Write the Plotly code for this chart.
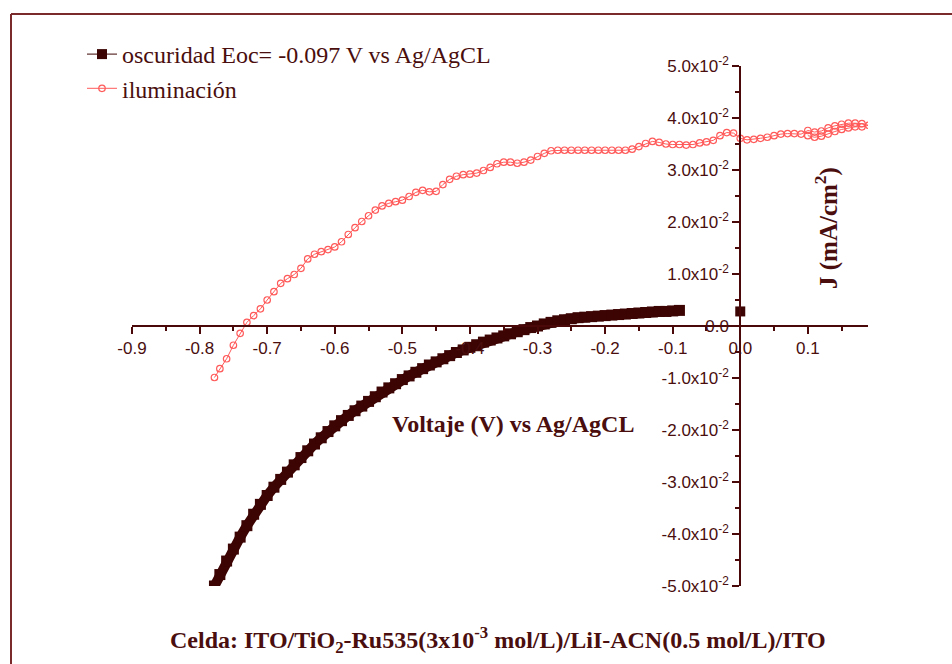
import plotly.graph_objects as go

# --- Curva en oscuridad (Eoc = -0.097 V vs Ag/AgCl) ---
osc_v = [-0.778, -0.770, -0.760, -0.750, -0.740, -0.730, -0.720, -0.710, -0.700,
         -0.690, -0.680, -0.670, -0.660, -0.650, -0.640, -0.630, -0.620, -0.610,
         -0.600, -0.590, -0.580, -0.570, -0.560, -0.550, -0.540, -0.530, -0.520,
         -0.510, -0.500, -0.490, -0.480, -0.470, -0.460, -0.450, -0.440, -0.430,
         -0.420, -0.410, -0.400, -0.390, -0.380, -0.370, -0.360, -0.350, -0.340,
         -0.330, -0.320, -0.310, -0.300, -0.290, -0.280, -0.270, -0.260, -0.250,
         -0.240, -0.230, -0.220, -0.210, -0.200, -0.190, -0.180, -0.170, -0.160,
         -0.150, -0.140, -0.130, -0.120, -0.110, -0.100, -0.090]
osc_j = [-0.0500, -0.0478, -0.0452, -0.0429, -0.0406, -0.0384, -0.0362, -0.0343, -0.0326,
         -0.0310, -0.0295, -0.0281, -0.0267, -0.0253, -0.0240, -0.0227, -0.0215, -0.0203,
         -0.0192, -0.0182, -0.0172, -0.0163, -0.0154, -0.0145, -0.0136, -0.0127, -0.0119,
         -0.0111, -0.0103, -0.0096, -0.0089, -0.0082, -0.0075, -0.0069, -0.0063, -0.0057,
         -0.0051, -0.0046, -0.0041, -0.0036, -0.0031, -0.0027, -0.0023, -0.0019, -0.0015,
         -0.0011, -0.0007, -0.0003, 0.0000, 0.0004, 0.0007, 0.0010, 0.0012, 0.0014,
         0.0016, 0.0017, 0.0018, 0.0019, 0.0020, 0.0021, 0.0022, 0.0023, 0.0024,
         0.0025, 0.0026, 0.0027, 0.0028, 0.0028, 0.0029, 0.0030]
# punto aislado registrado en 0.0 V
osc_extra_v = [0.0]
osc_extra_j = [0.0028]

# --- Curva bajo iluminación (barrido de ida y regreso parcial) ---
luz_v = [-0.778, -0.770, -0.760, -0.750, -0.740, -0.730, -0.720, -0.710, -0.700,
         -0.690, -0.680, -0.670, -0.660, -0.650, -0.640, -0.630, -0.620, -0.610,
         -0.600, -0.590, -0.580, -0.570, -0.560, -0.550, -0.540, -0.530, -0.520,
         -0.510, -0.500, -0.490, -0.480, -0.470, -0.460, -0.450, -0.440, -0.430,
         -0.420, -0.410, -0.400, -0.390, -0.380, -0.370, -0.360, -0.350, -0.340,
         -0.330, -0.320, -0.310, -0.300, -0.290, -0.280, -0.270, -0.260, -0.250,
         -0.240, -0.230, -0.220, -0.210, -0.200, -0.190, -0.180, -0.170, -0.160,
         -0.150, -0.140, -0.130, -0.120, -0.110, -0.100, -0.090, -0.080, -0.070,
         -0.060, -0.050, -0.040, -0.030, -0.020, -0.010, 0.000, 0.010, 0.020,
         0.030, 0.040, 0.050, 0.060, 0.070, 0.080, 0.090, 0.100, 0.110,
         0.120, 0.130, 0.140, 0.150, 0.160, 0.170, 0.180, 0.190,
         0.180, 0.170, 0.160, 0.150, 0.140, 0.130, 0.120, 0.110, 0.100]
luz_j = [-0.0099, -0.0082, -0.0063, -0.0037, -0.0014, 0.0007, 0.0020, 0.0033, 0.0050,
         0.0066, 0.0082, 0.0091, 0.0099, 0.0111, 0.0129, 0.0138, 0.0143, 0.0147,
         0.0152, 0.0162, 0.0176, 0.0189, 0.0201, 0.0212, 0.0223, 0.0231, 0.0236,
         0.0239, 0.0242, 0.0249, 0.0257, 0.0261, 0.0258, 0.0259, 0.0272, 0.0282,
         0.0288, 0.0291, 0.0292, 0.0294, 0.0299, 0.0305, 0.0312, 0.0315, 0.0315,
         0.0313, 0.0315, 0.0319, 0.0326, 0.0332, 0.0337, 0.0338, 0.0338, 0.0338,
         0.0338, 0.0338, 0.0338, 0.0338, 0.0338, 0.0338, 0.0338, 0.0338, 0.0340,
         0.0345, 0.0351, 0.0355, 0.0353, 0.0350, 0.0349, 0.0349, 0.0348, 0.0349,
         0.0352, 0.0354, 0.0357, 0.0366, 0.0372, 0.0371, 0.0361, 0.0358, 0.0359,
         0.0361, 0.0363, 0.0366, 0.0369, 0.0370, 0.0370, 0.0369, 0.0376, 0.0373,
         0.0375, 0.0381, 0.0385, 0.0388, 0.0390, 0.0390, 0.0389, 0.0386,
         0.0383, 0.0383, 0.0381, 0.0378, 0.0374, 0.0369, 0.0365, 0.0363, 0.0366]

# --- Ticks ---
x_ticks = [-0.9, -0.8, -0.7, -0.6, -0.5, -0.4, -0.3, -0.2, -0.1, 0.0, 0.1]
x_labels = ["-0.9", "-0.8", "-0.7", "-0.6", "-0.5", "-0.4", "-0.3", "-0.2", "-0.1", "0.0", "0.1"]
y_ticks = [-0.05, -0.04, -0.03, -0.02, -0.01, 0.0, 0.01, 0.02, 0.03, 0.04, 0.05]
y_labels = ["-5.0x10<sup>-2</sup>", "-4.0x10<sup>-2</sup>", "-3.0x10<sup>-2</sup>",
            "-2.0x10<sup>-2</sup>", "-1.0x10<sup>-2</sup>", "0.0",
            "1.0x10<sup>-2</sup>", "2.0x10<sup>-2</sup>", "3.0x10<sup>-2</sup>",
            "4.0x10<sup>-2</sup>", "5.0x10<sup>-2</sup>"]

X_RANGE = [-0.9, 0.189]
Y_RANGE = [-0.05, 0.05]

W, H = 952, 664
ML, MR, MT, MB = 132, 84, 66, 78
PW, PH = W - ML - MR, H - MT - MB

DARK = "#3d0404"
LIGHT = "#ff5a5a"
INK = "#4a0e0e"
AXIS = "#4a0808"
FRAME = "#7a2a2a"
SERIF = "Liberation Serif, Times New Roman, serif"
SANS = "Liberation Sans, Arial, sans-serif"


def px(x):
    return (x - ML) / PW


def py(y):
    return (H - MB - y) / PH


fig = go.Figure()

# banda continua de la curva en oscuridad
fig.add_trace(go.Scatter(
    x=osc_v, y=osc_j, mode="lines+markers", showlegend=False,
    line=dict(color=DARK, width=10),
    marker=dict(symbol="square", size=11, color=DARK),
))
fig.add_trace(go.Scatter(
    x=osc_extra_v, y=osc_extra_j, mode="markers", showlegend=False,
    marker=dict(symbol="square", size=10, color=DARK),
))
# entrada de leyenda para la curva en oscuridad
fig.add_trace(go.Scatter(
    x=[None], y=[None], mode="lines+markers",
    name="oscuridad Eoc= -0.097 V vs Ag/AgCL",
    line=dict(color=DARK, width=1),
    marker=dict(symbol="square", size=10, color=DARK),
))
fig.add_trace(go.Scatter(
    x=luz_v, y=luz_j, mode="lines+markers", name="iluminación",
    line=dict(color=LIGHT, width=1),
    marker=dict(symbol="circle-open", size=6.5, color=LIGHT, line=dict(width=1.2, color=LIGHT)),
))

x_zero_pos = (0 - X_RANGE[0]) / (X_RANGE[1] - X_RANGE[0])
y_zero_pos = (0 - Y_RANGE[0]) / (Y_RANGE[1] - Y_RANGE[0])

fig.update_layout(
    width=W, height=H,
    margin=dict(l=ML, r=MR, t=MT, b=MB),
    paper_bgcolor="white", plot_bgcolor="white",
    xaxis=dict(
        range=X_RANGE, anchor="free", position=y_zero_pos,
        showgrid=False, zeroline=False,
        showline=True, linecolor=AXIS, linewidth=2,
        tickmode="array", tickvals=x_ticks, ticktext=x_labels,
        ticks="outside", ticklen=7, tickwidth=2, tickcolor=AXIS,
        minor=dict(dtick=0.05, tick0=0, ticks="outside", ticklen=4, tickwidth=2, tickcolor=AXIS),
        tickfont=dict(family=SANS, size=17, color=INK),
    ),
    yaxis=dict(
        range=Y_RANGE, anchor="free", position=x_zero_pos,
        showgrid=False, zeroline=False,
        showline=True, linecolor=AXIS, linewidth=2,
        tickmode="array", tickvals=y_ticks, ticktext=y_labels,
        ticks="outside", ticklen=7, tickwidth=2, tickcolor=AXIS,
        minor=dict(dtick=0.005, tick0=0, ticks="outside", ticklen=4, tickwidth=2, tickcolor=AXIS),
        tickfont=dict(family=SANS, size=17, color=INK),
    ),
    legend=dict(
        x=px(82), y=py(32), xanchor="left", yanchor="top",
        bgcolor="rgba(0,0,0,0)", font=dict(family=SERIF, size=24, color=INK),
        tracegroupgap=4,
    ),
    showlegend=True,
)

fig.add_annotation(
    x=px(513), y=py(424), xref="paper", yref="paper", showarrow=False,
    xanchor="center", yanchor="middle",
    text="<b>Voltaje (V) vs Ag/AgCL</b>",
    font=dict(family=SERIF, size=24, color=INK),
)
fig.add_annotation(
    x=px(826), y=py(228), xref="paper", yref="paper", showarrow=False,
    xanchor="center", yanchor="middle",
    text="<b>J (mA/cm<sup>2</sup>)</b>", textangle=-90,
    font=dict(family=SERIF, size=25, color=INK),
)
fig.add_annotation(
    x=px(498), y=py(640), xref="paper", yref="paper", showarrow=False,
    xanchor="center", yanchor="middle",
    text="<b>Celda: ITO/TiO<sub>2</sub>-Ru535(3x10<sup>-3</sup> mol/L)/LiI-ACN(0.5 mol/L)/ITO</b>",
    font=dict(family=SERIF, size=24, color=INK),
)

# marco exterior (bordes superior e izquierdo)
fig.add_shape(type="line", xref="paper", yref="paper",
              x0=px(11), y0=py(14), x1=px(W + 10), y1=py(14),
              line=dict(color=FRAME, width=2))
fig.add_shape(type="line", xref="paper", yref="paper",
              x0=px(11), y0=py(14), x1=px(11), y1=py(H + 10),
              line=dict(color=FRAME, width=2))

fig.write_html("out.html")
